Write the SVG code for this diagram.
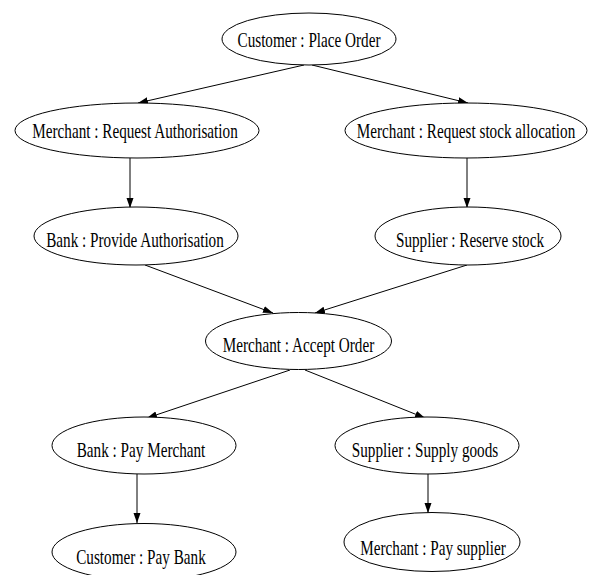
<svg xmlns="http://www.w3.org/2000/svg" width="590" height="575" viewBox="0 0 590 575">
<style>
.n ellipse{fill:#fff;stroke:#000;stroke-width:1}
.n text{font-family:"Liberation Serif","Times New Roman",serif;font-size:20px;fill:#000;text-anchor:middle}
#edges line{stroke:#000;stroke-width:1;marker-end:url(#ah)}
</style>
<defs>
<marker id="ah" markerUnits="userSpaceOnUse" markerWidth="10" markerHeight="8" refX="10" refY="3.5" orient="auto">
<path d="M0,0 L10,3.5 L0,7 z" fill="#000"/>
</marker>
</defs>
<rect width="590" height="575" fill="#fff"/>
<g id="edges">
<line x1="304" y1="65" x2="138" y2="103"/>
<line x1="312" y1="65" x2="468" y2="103"/>
<line x1="130" y1="158" x2="130" y2="208"/>
<line x1="467" y1="158" x2="467" y2="208"/>
<line x1="145" y1="265" x2="273" y2="313"/>
<line x1="467" y1="265" x2="315" y2="313"/>
<line x1="290" y1="370" x2="147" y2="418"/>
<line x1="305" y1="370" x2="425" y2="418"/>
<line x1="137" y1="474" x2="137" y2="523"/>
<line x1="428" y1="474" x2="428" y2="513"/>
</g>
<g id="n1" class="n"><ellipse cx="309" cy="39" rx="87" ry="26"/><text transform="translate(309,46.5) scale(0.76,1)">Customer : Place Order</text></g>
<g id="n2" class="n"><ellipse cx="137" cy="130.5" rx="122" ry="27.5"/><text transform="translate(135,137.5) scale(0.76,1)">Merchant : Request Authorisation</text></g>
<g id="n3" class="n"><ellipse cx="466" cy="130.5" rx="121" ry="27.5"/><text transform="translate(466,137.5) scale(0.76,1)">Merchant : Request stock allocation</text></g>
<g id="n4" class="n"><ellipse cx="136" cy="236" rx="102" ry="29"/><text transform="translate(135,246.5) scale(0.76,1)">Bank : Provide Authorisation</text></g>
<g id="n5" class="n"><ellipse cx="468" cy="236" rx="93" ry="29"/><text transform="translate(470,246.5) scale(0.76,1)">Supplier : Reserve stock</text></g>
<g id="n6" class="n"><ellipse cx="298.5" cy="341" rx="93" ry="28.5"/><text transform="translate(298.5,351.5) scale(0.76,1)">Merchant : Accept Order</text></g>
<g id="n7" class="n"><ellipse cx="144" cy="445.5" rx="92" ry="28.5"/><text transform="translate(141,456.5) scale(0.76,1)">Bank : Pay Merchant</text></g>
<g id="n8" class="n"><ellipse cx="427" cy="445.5" rx="92" ry="28.5"/><text transform="translate(425,456.5) scale(0.76,1)">Supplier : Supply goods</text></g>
<g id="n9" class="n"><ellipse cx="144" cy="552" rx="92" ry="28.5"/><text transform="translate(141,563.5) scale(0.76,1)">Customer : Pay Bank</text></g>
<g id="n10" class="n"><ellipse cx="432" cy="542" rx="88" ry="29.5"/><text transform="translate(433,554.5) scale(0.76,1)">Merchant : Pay supplier</text></g>
</svg>
